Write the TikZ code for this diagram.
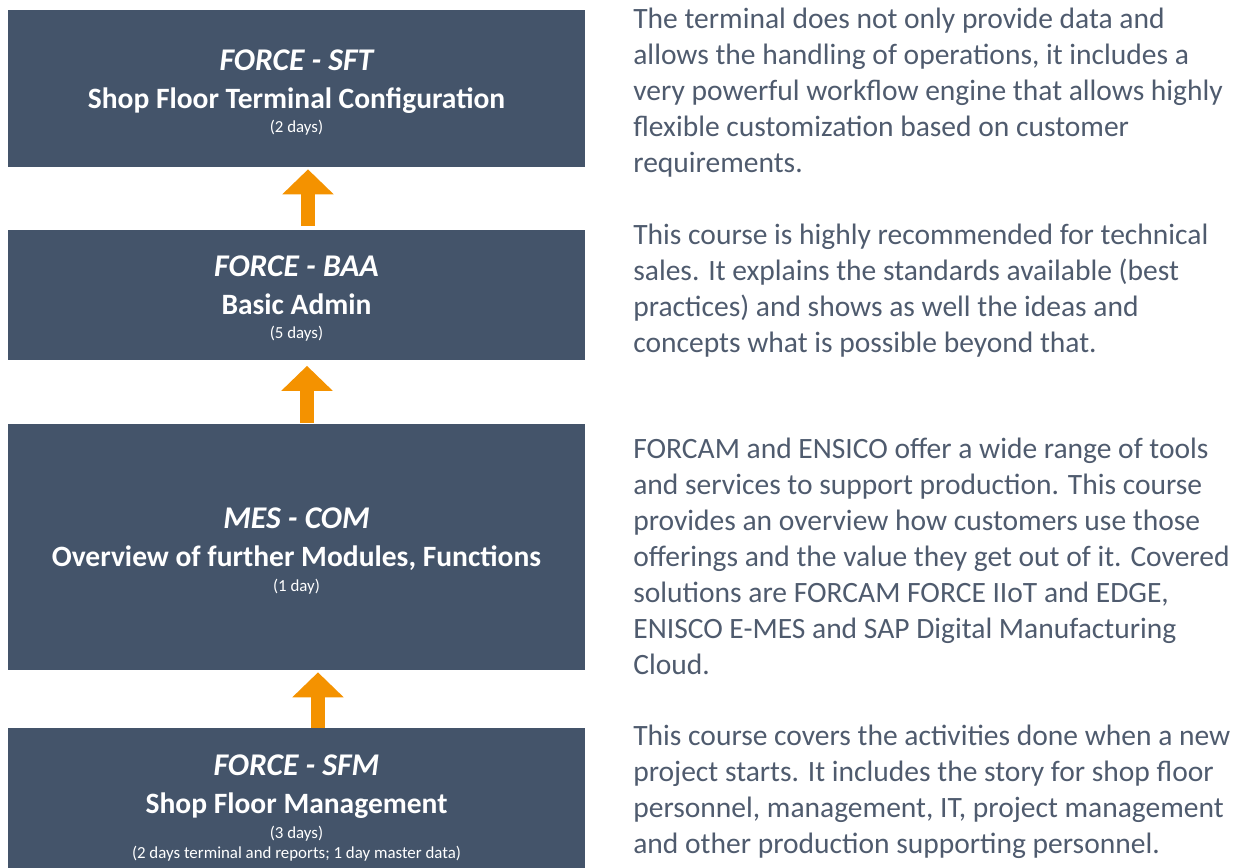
\documentclass[tikz,border=0pt]{standalone}
\usepackage{fontspec}
\setmainfont{Carlito}
\usetikzlibrary{calc,arrows.meta}
\definecolor{boxblue}{HTML}{44546A}
\definecolor{flowarrow}{HTML}{F49200}
\definecolor{descgray}{HTML}{4F5B6E}
\tikzset{>={Triangle[width=1cm,length=0.5cm]}}
\tikzset{
  course/.style={fill=boxblue,text=white,minimum width=11.54cm,inner sep=0pt,
    align=center,font=\fontsize{16.8}{21.6}\selectfont},
  desc/.style={anchor=north west,inner sep=0pt,align=left,text=descgray,
    font=\fontsize{16.8}{20.5}\selectfont},
  flow/.style={->,line width=0.28cm,flowarrow}
}
\newcommand{\coursecode}[1]{\rule{0pt}{16.5pt}{\fontsize{18}{21}\selectfont\bfseries\itshape #1}}
\newcommand{\duration}[1]{{\fontsize{9.6}{10}\selectfont #1}}

\begin{document}
\begin{tikzpicture}[x=0.02cm,y=-0.02cm]
  \useasboundingbox (0,0) rectangle (1240,867);
  % course boxes
  \node[course,minimum height=3.14cm] (sft) at (296.5,88.5)
    {\coursecode{FORCE - SFT}\\ \textbf{Shop Floor Terminal Configuration}\\[-7.6pt] \duration{(2 days)}};
  \node[course,minimum height=2.6cm] (baa) at (296.5,294.5)
    {\coursecode{FORCE - BAA}\\ \textbf{Basic Admin}\\[-7.6pt] \duration{(5 days)}};
  \node[course,minimum height=4.92cm] (com) at (296.5,547)
    {\coursecode{MES - COM}\\ \textbf{Overview of further Modules, Functions}\\[-7.6pt] \duration{(1 day)}};
  % arrows
  \draw[flow] ($(baa.north)+(11.5,-3)$) -- ($(sft.south)+(11.5,2)$);
  \draw[flow] ($(com.north)+(10.5,-1)$) -- ($(baa.south)+(10.5,6)$);
  \draw[flow] ($(com.south)+(21.5,61)$) -- ($(com.south)+(21.5,2)$);
  \node[course,minimum height=3.04cm] (sfm) at (296.5,804)
    {\coursecode{FORCE - SFM}\\ \textbf{Shop Floor Management}\\[-7.6pt] \duration{(3 days)}\\[-10.2pt]
     \duration{(2 days terminal and reports; 1 day master data)}};
  % descriptions
  \node[desc] (dsft) at (633,8) {The terminal does not only provide data and\\
    allows the handling of operations, it includes a\\
    very powerful workflow engine that allows highly\\
    flexible customization based on customer\\
    requirements.};
  \node[desc] (dbaa) at (633,224) {This course is highly recommended for technical\\
    sales. It explains the standards available (best\\
    practices) and shows as well the ideas and\\
    concepts what is possible beyond that.};
  \node[desc] (dcom) at (633,438) {FORCAM and ENSICO offer a wide range of tools\\
    and services to support production. This course\\
    provides an overview how customers use those\\
    offerings and the value they get out of it. Covered\\
    solutions are FORCAM FORCE IIoT and EDGE,\\
    ENISCO E-MES and SAP Digital Manufacturing\\
    Cloud.};
  \node[desc] (dsfm) at (633,725) {This course covers the activities done when a new\\
    project starts. It includes the story for shop floor\\
    personnel, management, IT, project management\\
    and other production supporting personnel.};
\end{tikzpicture}
\end{document}
